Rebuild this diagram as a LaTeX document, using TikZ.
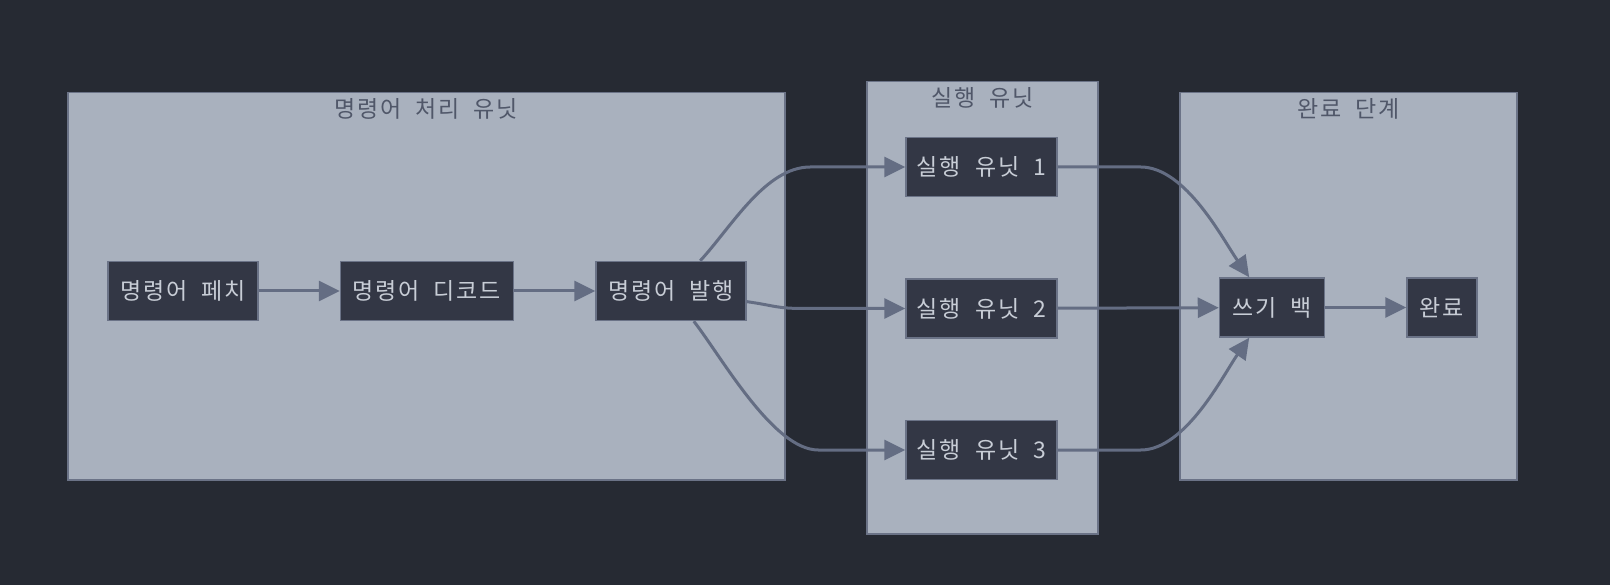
\documentclass[tikz,border=0pt]{standalone}
\usepackage{fontspec}
\setmainfont[LetterSpace=8, WordSpace=2]{Noto Sans CJK KR}
\usetikzlibrary{arrows.meta, positioning}

\definecolor{bgdark}{HTML}{262A33}
\definecolor{groupfill}{HTML}{A9B1BE}
\definecolor{groupline}{HTML}{6B7387}
\definecolor{boxfill}{HTML}{333745}
\definecolor{boxline}{HTML}{6B7387}
\definecolor{boxtext}{HTML}{C8CDD6}
\definecolor{titletext}{HTML}{505769}
\definecolor{edge}{HTML}{646D83}

\begin{document}
\begin{tikzpicture}[x=1pt, y=1pt, node distance=81pt, font=\fontsize{23}{27}\selectfont,
    unit/.style={rectangle, draw=boxline, fill=boxfill, text=boxtext, line width=1.5pt, minimum height=59pt, inner sep=0pt},
    group/.style={rectangle, draw=groupline, fill=groupfill, line width=1.5pt, anchor=north west, inner sep=0pt},
    grouptitle/.style={text=titletext, inner sep=0pt},
    flow/.style={draw=edge, line width=3pt, -{Triangle[length=21pt, width=20pt]}}]
    \fill [bgdark] (0,0) rectangle (1610,-585);

    \node [group, minimum width=717pt, minimum height=387pt] (issuegroup) at (67,-92) {};
    \node [group, minimum width=231pt, minimum height=452pt] (execgroup) at (866,-81) {};
    \node [group, minimum width=337pt, minimum height=387pt] (donegroup) at (1179,-92) {};
    \node [grouptitle, below=6pt of issuegroup.north] (issuetitle) {명령어 처리 유닛};
    \node [grouptitle, below=6pt of execgroup.north] (exectitle) {실행 유닛};
    \node [grouptitle, below=6pt of donegroup.north] (donetitle) {완료 단계};

    \node [unit, minimum width=150pt] (fetch) at (183,-291) {명령어 페치};
    \node [unit, minimum width=173pt, right=of fetch] (decode) {명령어 디코드};
    \node [unit, minimum width=150pt, right=of decode] (issue) {명령어 발행};
    \node [unit, minimum width=151pt] (eu1) at (981.5,-167) {실행 유닛 1};
    \node [unit, minimum width=151pt, below=of eu1] (eu2) {실행 유닛 2};
    \node [unit, minimum width=151pt, below=of eu2] (eu3) {실행 유닛 3};
    \node [unit, minimum width=105pt] (wb) at (1272,-307.5) {쓰기 백};
    \node [unit, minimum width=70pt, right=of wb] (done) {완료};

    \path [flow] (fetch) -- (decode);
    \path [flow] (decode) -- (issue);
    \path [flow] (issue.46) to [out=47, in=180, distance=45pt] ([xshift=-95pt]eu1.west) -- (eu1);
    \path [flow] (issue.-8) to [out=-8, in=180, distance=30pt] ([xshift=-100pt]eu2.west) -- (eu2);
    \path [flow] (issue.-53) to [out=-52, in=180, distance=45pt] ([xshift=-87pt]eu3.west) -- (eu3);
    \path [flow] (eu1.east) -- ++(83,0) to [out=0, in=125, distance=45pt] (wb.127);
    \path [flow] (eu2) -- (wb);
    \path [flow] (eu3.east) -- ++(83,0) to [out=0, in=-125, distance=45pt] (wb.-127);
    \path [flow] (wb) -- (done);
\end{tikzpicture}
\end{document}
